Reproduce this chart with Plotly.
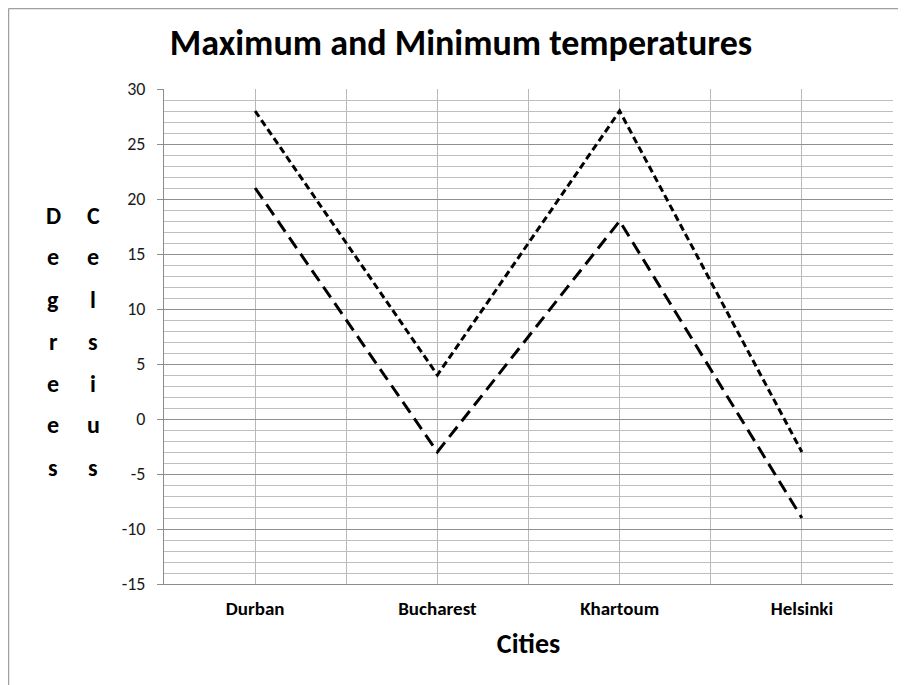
import plotly.graph_objects as go

cities = ["Durban", "Bucharest", "Khartoum", "Helsinki"]
max_temp = [28, 4, 28, -3]
min_temp = [21, -3, 18, -9]
y_ticks = [-15, -10, -5, 0, 5, 10, 15, 20, 25, 30]

FONT = "Carlito, Lato, 'Open Sans', sans-serif"
OFF = 8  # page body margin
W, H = 906 - OFF, 685 - OFF
# plot area in page pixels: x 164..893, y 89..584
ML = 164 - OFF
MR = 906 - 893
MT = 89 - OFF
MB = 685 - 584
PW = W - ML - MR
PH = H - MT - MB

def px_x(px):  # page pixel -> paper
    return (px - OFF - ML) / PW

def px_y(py):
    return (H - MB - (py - OFF)) / PH

xs = list(range(len(cities)))

fig = go.Figure()
fig.add_trace(go.Scatter(x=xs, y=max_temp, mode="lines", name="Maximum",
                         line=dict(color="black", width=3, dash="7px,4px")))
fig.add_trace(go.Scatter(x=xs, y=min_temp, mode="lines", name="Minimum",
                         line=dict(color="black", width=3, dash="13px,7px")))

annotations = []
for col_px, word in [(53, "Degrees"), (93, "Celsius")]:
    for i, ch in enumerate(word):
        py = 215 + i * 42
        annotations.append(dict(x=px_x(col_px), y=px_y(py), xref="paper", yref="paper",
                                text=f"<b>{ch}</b>", showarrow=False,
                                font=dict(family=FONT, size=24, color="black"),
                                xanchor="center", yanchor="middle"))

fig.update_layout(
    width=W, height=H,
    margin=dict(l=ML, r=MR, t=MT, b=MB),
    paper_bgcolor="white", plot_bgcolor="white",
    showlegend=False,
    title=dict(text="<b>Maximum and Minimum temperatures</b>",
               x=px_x(461), xref="paper", y=1 - (42 - OFF) / H, yanchor="middle",
               font=dict(family=FONT, size=36, color="black")),
    xaxis=dict(range=[-0.5, len(cities) - 0.5], tickvals=xs, ticktext=[f"<b>{c}</b>" for c in cities],
               showgrid=True, gridcolor="#b8b8b8", gridwidth=1,
               minor=dict(dtick=0.5, tick0=-0.5, showgrid=True, gridcolor="#b8b8b8", gridwidth=1),
               showline=True, linecolor="#8c8c8c", linewidth=1,
               ticks="", zeroline=False, ticklabelstandoff=7,
               tickfont=dict(family=FONT, size=19, color="black"),
               title=dict(text="<b>Cities</b>", font=dict(family=FONT, size=28, color="black"), standoff=14)),
    yaxis=dict(range=[-15, 30], tickvals=y_ticks, ticktext=[str(v) for v in y_ticks],
               showgrid=True, gridcolor="#8f8f8f", gridwidth=1,
               minor=dict(dtick=1, tick0=0, showgrid=True, gridcolor="#bebebe", gridwidth=1),
               showline=True, linecolor="#8c8c8c", linewidth=1,
               ticks="outside", ticklen=6, tickcolor="#8c8c8c",
               zeroline=False, ticklabelstandoff=8,
               tickfont=dict(family=FONT, size=18, color="#1a1a1a")),
    annotations=annotations,
    shapes=[
        dict(type="line", xref="paper", yref="paper", x0=px_x(8.5), x1=px_x(8.5), y0=px_y(8.5), y1=px_y(H + 20),
             line=dict(color="#a0a0a0", width=1.5)),
        dict(type="line", xref="paper", yref="paper", x0=px_x(8.5), x1=px_x(W + 20), y0=px_y(8.5), y1=px_y(8.5),
             line=dict(color="#a0a0a0", width=1.5)),
    ],
)

fig.write_html("out.html")
